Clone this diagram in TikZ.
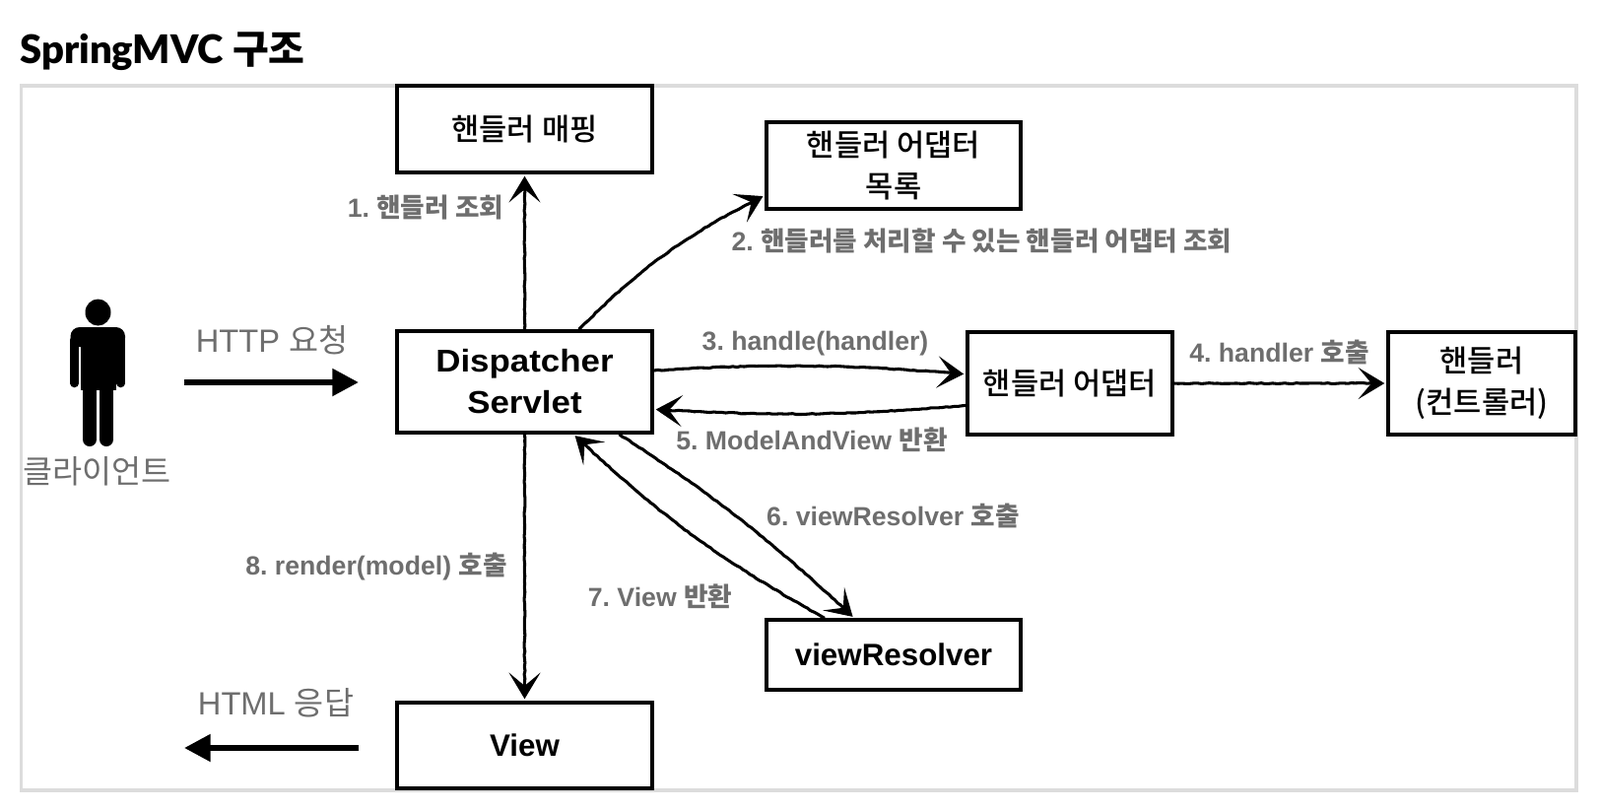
\documentclass[tikz,border=0pt]{standalone}
\usepackage{fontspec}
\usetikzlibrary{arrows.meta,decorations.pathmorphing}
\setmainfont{Liberation Sans}
\newfontfamily\krfont{Noto Sans CJK KR}
\newfontfamily\krboxfont{Noto Sans CJK KR Medium}
\newfontfamily\boxfont[FakeStretch=1.09]{Liberation Sans}
\newfontfamily\titlefont{Lato Black}
\newfontfamily\krtitlefont{Noto Sans CJK KR Black}
\newcommand{\kr}[1]{{\krfont #1}}
\newcommand{\krbox}[1]{{\krboxfont #1}}
\definecolor{framegray}{HTML}{DCDCDC}
\definecolor{labelgray}{HTML}{6E6E6E}
\def\px{0.75pt}
\tikzset{
	boxnode/.style={draw,line width=2.6pt,inner sep=0pt,align=center,font=\fontsize{23}{31.5}\selectfont},
	flowarrow/.style={->,line width=2.3pt,shorten >=1.5pt,decorate,decoration={random steps,segment length=3pt,amplitude=0.35pt,post=lineto,post length=10pt}},
	steplabel/.style={text=labelgray,inner sep=0pt,font=\fontsize{20}{24}\selectfont\bfseries},
	sidelabel/.style={text=labelgray,inner sep=0pt,font=\fontsize{24.5}{28}\selectfont},
	bigarrow/.style={-{Triangle[length=20pt,width=20pt]},line width=4.5pt}
}
\frenchspacing
\begin{document}
\begin{tikzpicture}[x=0.75pt,y=-0.75pt,>={Stealth[length=20pt,width=24pt,inset=10pt]}]
	\useasboundingbox (0,0) rectangle (1624,822);
	\node[anchor=base west,inner sep=0pt,font=\fontsize{30}{36}\selectfont] (title) at (20,64) {\titlefont SpringMVC {\krtitlefont 구조}};
	\draw[framegray,line width=2.4pt] (21.5,87) rectangle (1600,802);
	% boxes
	\node[boxnode,minimum width=259*\px,minimum height=88*\px] (mapping) at (532.5,131) {\krbox{핸들러 매핑}};
	\node[boxnode,minimum width=258*\px,minimum height=88*\px] (adapterlist) at (907,168) {\krbox{핸들러 어댑터}\\\krbox{목록}};
	\node[boxnode,minimum width=259*\px,minimum height=103*\px] (dispatcher) at (532.5,387.5) {\fontsize{24}{32}\boxfont\bfseries Dispatcher\\\fontsize{24}{32}\boxfont\bfseries Servlet};
	\node[boxnode,minimum width=208*\px,minimum height=104*\px] (adapter) at (1086,389) {\krbox{핸들러 어댑터}};
	\node[boxnode,minimum width=190*\px,minimum height=104*\px] (handler) at (1504,389) {\krbox{핸들러}\\\krbox{(컨트롤러)}};
	\node[boxnode,minimum width=258*\px,minimum height=71*\px] (resolver) at (907,664.5) {\fontsize{23.5}{30}\selectfont\bfseries viewResolver};
	\node[boxnode,minimum width=259*\px,minimum height=87*\px] (view) at (532.5,756.5) {\fontsize{23.5}{30}\selectfont\bfseries View};
	% client
	\fill (99.5,317) ellipse [x radius=13,y radius=13.5];
	\fill[rounded corners=7pt] (71.5,352) -- (71.5,332) -- (127,332) -- (127,352) -- cycle;
	\fill (81.5,345) rectangle (117.5,396);
	\draw[line width=6.4pt,line cap=round] (75.75,345) -- (75.75,389);
	\draw[line width=6.4pt,line cap=round] (122.75,345) -- (122.75,389);
	\draw[line width=10.5pt,line cap=round] (91,390) -- (91,446);
	\draw[line width=10.5pt,line cap=round] (108,390) -- (108,446);
	\node[sidelabel] (client) at (98.5,478) {\kr{클라이언트}};
	% request and response
	\coordinate (reqstart) at (187,388);
	\coordinate (reqend) at (364,388);
	\coordinate (resstart) at (364,759);
	\coordinate (resend) at (187,759);
	\draw[bigarrow] (reqstart) -- (reqend);
	\draw[bigarrow] (resstart) -- (resend);
	\node[sidelabel] (reqlabel) at (276,345) {HTTP \kr{요청}};
	\node[sidelabel] (reslabel) at (280,713) {HTML \kr{응답}};
	% flow
	\draw[flowarrow] (dispatcher.north) -- (mapping.south);
	\draw[flowarrow] (dispatcher.44) to[bend left=9] (adapterlist.193);
	\draw[flowarrow] (dispatcher.5) to[bend left=4] (adapter.175);
	\draw[flowarrow] (adapter.east) -- (handler.west);
	\draw[flowarrow] (adapter.192) to[bend left=4] (dispatcher.348);
	\draw[flowarrow] (dispatcher.331) to[bend left=5] (resolver.137);
	\draw[flowarrow] (resolver.152) to[bend left=7] (dispatcher.313);
	\draw[flowarrow] (dispatcher.south) -- (view.north);
	% labels
	\node[steplabel] (lblone) at (432,210.5) {1. \kr{핸들러 조회}};
	\node[steplabel] (lbltwo) at (996.5,244) {2. \kr{핸들러를 처리할 수 있는 핸들러 어댑터 조회}};
	\node[steplabel] (lblthree) at (827.5,349) {3. handle(handler)};
	\node[steplabel] (lblfour) at (1298.5,357) {4. handler \kr{호출}};
	\node[steplabel] (lblfive) at (824,446) {5. ModelAndView \kr{반환}};
	\node[steplabel] (lblsix) at (906.5,523) {6. viewResolver \kr{호출}};
	\node[steplabel] (lblseven) at (670,605) {7. View \kr{반환}};
	\node[steplabel] (lbleight) at (382,575) {8. render(model) \kr{호출}};
\end{tikzpicture}
\end{document}
